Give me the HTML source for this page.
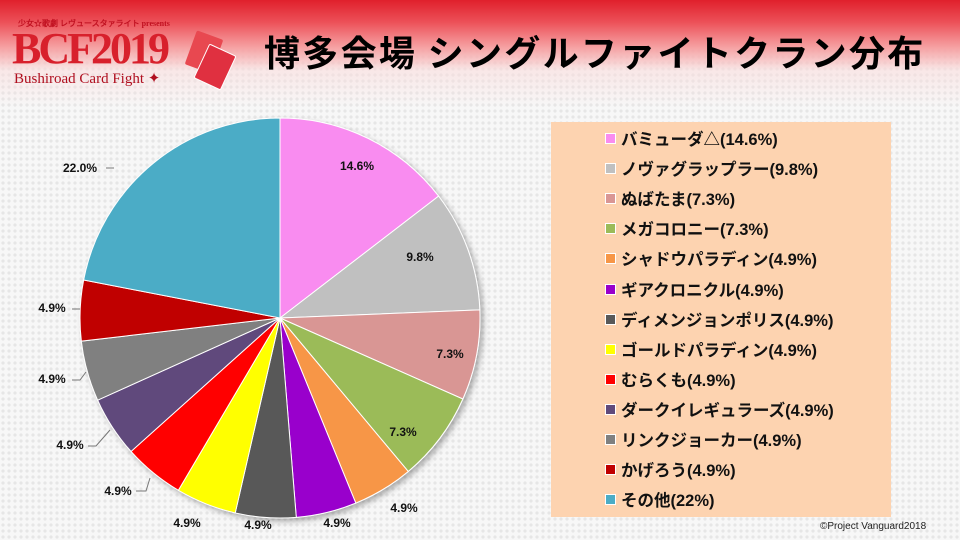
<!DOCTYPE html>
<html><head><meta charset="utf-8"><style>
html,body{margin:0;padding:0}
body{width:960px;height:540px;overflow:hidden;position:relative;font-family:"Liberation Sans","Noto Sans CJK JP",sans-serif;
background:radial-gradient(circle,#e6e6e6 1.6px,transparent 1.8px) 0 0/6px 6px,#f7f7f7;}
#hdr{position:absolute;left:0;top:0;width:960px;height:110px;background:linear-gradient(#e0202c 0px,#ec5058 22px,#f59a9c 45px,rgba(250,220,220,0.6) 70px,rgba(255,255,255,0) 108px);}
#title{position:absolute;left:264px;top:25px;font-size:36px;font-weight:bold;color:#000;font-family:"Noto Sans CJK JP",sans-serif;letter-spacing:2.3px}
#logo{position:absolute;left:12px;top:18px;color:#d8202c;font-family:"Liberation Serif",serif}
#legend{position:absolute;left:551px;top:122px;width:340px;height:395px;background:#fdd3b0;}
.li{position:absolute;left:54px;font-size:16.5px;font-weight:bold;color:#111;white-space:nowrap;font-family:"Liberation Sans","Noto Sans CJK JP",sans-serif}
.li i{display:inline-block;width:9px;height:9px;border:1px solid #fff;margin-right:5px;vertical-align:1px}
#copy{position:absolute;left:820px;top:521px;font-size:10px;color:#222}
</style></head><body>
<div id="hdr"></div>
<div id="logo">
<div style="font-size:8px;color:#c01020;font-weight:bold;margin-left:6px">少女☆歌劇 レヴュースタァライト presents</div>
<div style="font-size:44px;line-height:40px;letter-spacing:-3px;font-weight:bold">BCF2019</div>
<div style="font-size:15px;color:#b01020;margin-left:2px">Bushiroad Card Fight ✦</div>
</div>
<div style="position:absolute;left:190px;top:34px;width:28px;height:36px;background:#e84850;transform:rotate(20deg);border-radius:2px"></div>
<div style="position:absolute;left:200px;top:48px;width:28px;height:36px;background:#e03040;transform:rotate(25deg);border-radius:2px;border:1px solid #fff"></div>
<div id="title">博多会場 シングルファイトクラン分布</div>
<svg id="pie" width="960" height="540" style="position:absolute;left:0;top:0"></svg>
<div id="legend"></div>
<div id="copy">©Project Vanguard2018</div>
<script>
var d=[["バミューダ△(14.6%)",14.6,"#f98cf0"],["ノヴァグラップラー(9.8%)",9.8,"#c0c0c0"],["ぬばたま(7.3%)",7.3,"#d99694"],["メガコロニー(7.3%)",7.3,"#9bbb59"],["シャドウパラディン(4.9%)",4.9,"#f79646"],["ギアクロニクル(4.9%)",4.9,"#9900cc"],["ディメンジョンポリス(4.9%)",4.9,"#595959"],["ゴールドパラディン(4.9%)",4.9,"#ffff00"],["むらくも(4.9%)",4.9,"#ff0000"],["ダークイレギュラーズ(4.9%)",4.9,"#604a7b"],["リンクジョーカー(4.9%)",4.9,"#808080"],["かげろう(4.9%)",4.9,"#c00000"],["その他(22%)",22,"#4bacc6"]];
var tot=0;d.forEach(function(x){tot+=x[1]});
var cx=280,cy=318,r=200,a=0,s='<defs><filter id="sh"><feDropShadow dx="3" dy="3" stdDeviation="3" flood-opacity="0.3"/></filter></defs><g filter="url(#sh)">';
d.forEach(function(x){var a2=a+x[1]/tot*2*Math.PI;
var x1=cx+r*Math.sin(a),y1=cy-r*Math.cos(a),x2=cx+r*Math.sin(a2),y2=cy-r*Math.cos(a2);
s+='<path d="M'+cx+','+cy+'L'+x1+','+y1+'A'+r+','+r+' 0 '+(a2-a>Math.PI?1:0)+' 1 '+x2+','+y2+'Z" fill="'+x[2]+'" stroke="#fff" stroke-width="1"/>';a=a2;});
s+='</g>';
var L=[["14.6%",357,166],["9.8%",420,257],["7.3%",450,354],["7.3%",403,432],["4.9%",404,508],["4.9%",337,523],["4.9%",258,525],["4.9%",187,523],["4.9%",118,491],["4.9%",70,445],["4.9%",52,379],["4.9%",52,308],["22.0%",80,168]];
L.forEach(function(l){s+='<text x="'+l[1]+'" y="'+(l[2]+4)+'" text-anchor="middle" font-size="12" font-weight="bold" font-family="Liberation Sans,sans-serif" fill="#111">'+l[0]+'</text>'});
s+='<g stroke="#777" fill="none" stroke-width="1"><polyline points="136,491 146,491 150,478"/><polyline points="88,446 96,446 110,430"/><polyline points="72,380 80,380 86,372"/><polyline points="72,309 80,309"/><polyline points="106,168 114,168"/></g>';
document.getElementById('pie').innerHTML=s;
var h='';d.forEach(function(x,i){h+='<div class="li" style="top:'+(4+i*30.1)+'px"><i style="background:'+x[2]+'"></i>'+x[0]+'</div>'});
document.getElementById('legend').innerHTML=h;
</script>
</body></html>
